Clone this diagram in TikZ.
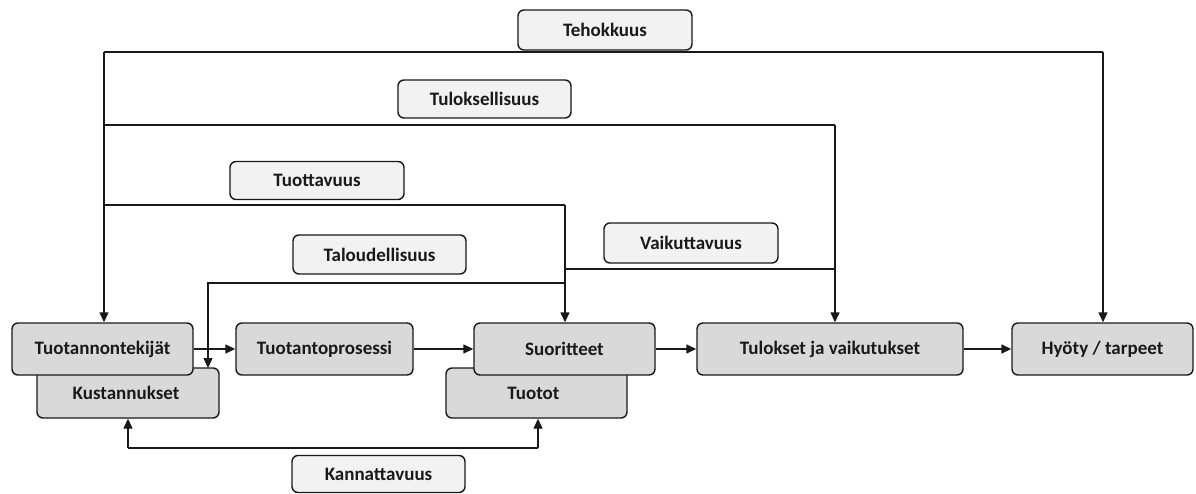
\documentclass[tikz,border=0pt]{standalone}
\usepackage{fontspec}
\setmainfont{Carlito}
\usetikzlibrary{arrows.meta}
\begin{document}
\begin{tikzpicture}[x=1pt,y=-1pt,
  base/.style={draw=black!90,line width=1.4pt,rounded corners=6pt,inner sep=0pt,
    font=\fontsize{19}{21}\selectfont\bfseries,text=black!90},
  mainbox/.style={base,fill=black!15},
  labelbox/.style={base,fill=black!5},
  conn/.style={line width=1.4pt,draw=black!90},
  arr/.style={conn,-{Triangle[length=10pt,width=9pt]}}]
\useasboundingbox (0,0) rectangle (1196,494);
% back boxes
\node[mainbox,minimum width=182pt,minimum height=50pt] (kust) at (128,393) {\raisebox{-3pt}{\hspace*{-4pt}Kustannukset}};
\node[mainbox,minimum width=181pt,minimum height=50pt] (tuotot) at (536.5,393) {\raisebox{-3pt}{\hspace*{-6pt}Tuotot}};
% front boxes
\node[mainbox,minimum width=181pt,minimum height=52pt] (tk) at (102.5,349) {Tuotannontekijät};
\node[mainbox,minimum width=177pt,minimum height=52pt] (tp) at (324.5,349) {Tuotantoprosessi};
\node[mainbox,minimum width=181pt,minimum height=52pt] (suor) at (564.5,349) {Suoritteet};
\node[mainbox,minimum width=266pt,minimum height=52pt] (tv) at (830,349) {Tulokset ja vaikutukset};
\node[mainbox,minimum width=181pt,minimum height=52pt] (hy) at (1102.5,349) {Hyöty / tarpeet};
% coordinates
\coordinate (c1) at (104,52);
\coordinate (c2) at (1103,52);
\coordinate (c3) at (104,125);
\coordinate (c4) at (835,125);
\coordinate (c5) at (104,205);
\coordinate (c6) at (565,205);
\coordinate (c7) at (565,269);
\coordinate (c8) at (835,269);
\coordinate (c9) at (565,283);
\coordinate (c10) at (208,283);
\coordinate (c11) at (208,368);
\coordinate (c12) at (128,448);
\coordinate (c13) at (538,448);
% connectors
\draw[conn] (c1) -- (c2);
\draw[arr] (c1) -- (c1 |- tk.north);
\draw[arr] (c2) -- (c2 |- hy.north);
\draw[conn] (c3) -- (c4);
\draw[arr] (c4) -- (c4 |- tv.north);
\draw[conn] (c5) -- (c6);
\draw[arr] (c6) -- (c6 |- suor.north);
\draw[conn] (c7) -- (c8);
\draw[arr] (c9) -- (c10) -- (c11);
\draw[arr] (tk) -- (tp);
\draw[arr] (tp) -- (suor);
\draw[arr] (suor) -- (tv);
\draw[arr] (tv) -- (hy);
\draw[arr] (c12) -- (c12 |- kust.south);
\draw[conn] (c12) -- (c13);
\draw[arr] (c13) -- (c13 |- tuotot.south);
% label boxes
\node[labelbox,minimum width=174pt,minimum height=40pt] (teh) at (605,30) {Tehokkuus};
\node[labelbox,minimum width=173pt,minimum height=38pt] (tul) at (484.5,99) {Tuloksellisuus};
\node[labelbox,minimum width=174pt,minimum height=38pt] (tuo) at (317,180.5) {Tuottavuus};
\node[labelbox,minimum width=173pt,minimum height=39pt] (tal) at (379.5,254.5) {Taloudellisuus};
\node[labelbox,minimum width=174pt,minimum height=40pt] (vai) at (691,243) {Vaikuttavuus};
\node[labelbox,minimum width=173pt,minimum height=37pt] (kan) at (378.5,474) {Kannattavuus};
\end{tikzpicture}
\end{document}
